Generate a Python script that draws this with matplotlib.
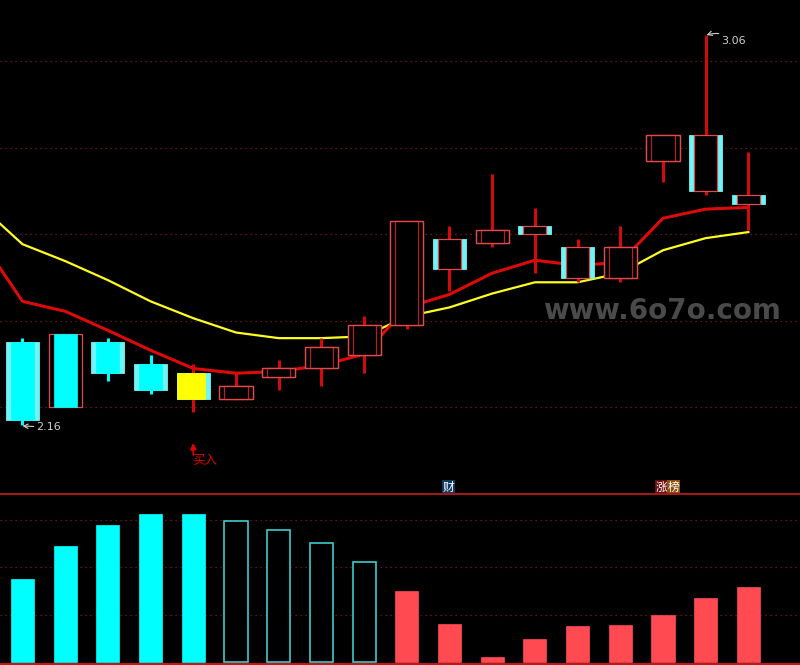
import matplotlib
matplotlib.use("Agg")
import matplotlib.pyplot as plt
import numpy as np

plt.rcParams['font.family'] = ['DejaVu Sans', 'Noto Sans CJK SC']

# ---------------- data ----------------
opens  = [2.35, 2.37, 2.35, 2.30, 2.28, 2.22, 2.27, 2.29, 2.32, 2.39, 2.52, 2.58, 2.60, 2.50, 2.50, 2.77, 2.70, 2.67]
closes = [2.17, 2.20, 2.28, 2.24, 2.22, 2.25, 2.29, 2.34, 2.39, 2.63, 2.59, 2.61, 2.62, 2.57, 2.57, 2.83, 2.83, 2.69]
highs  = [2.36, 2.37, 2.36, 2.32, 2.30, 2.28, 2.31, 2.36, 2.41, 2.63, 2.62, 2.74, 2.66, 2.59, 2.62, 2.83, 3.06, 2.79]
lows   = [2.16, 2.20, 2.26, 2.23, 2.19, 2.22, 2.24, 2.25, 2.28, 2.38, 2.47, 2.57, 2.51, 2.49, 2.49, 2.72, 2.69, 2.61]
# colour of the inner (narrow) candle and of the outer (wide) candle
inner_kind = ['down', 'down', 'down', 'down', 'signal', 'up', 'up', 'up', 'up', 'up',
              'up', 'up', 'up', 'up', 'up', 'up', 'up', 'up']
outer_kind = ['down', 'up', 'down', 'down', 'down', 'up', 'up', 'up', 'up', 'up',
              'down', 'up', 'down', 'down', 'up', 'up', 'down', 'down']
# moving averages, first value belongs to the bar just left of the view
ma_fast = [2.591, 2.445, 2.422, 2.378, 2.332, 2.290, 2.279, 2.283, 2.297, 2.323, 2.431,
           2.461, 2.510, 2.540, 2.528, 2.535, 2.637, 2.658, 2.662]
ma_slow = [2.667, 2.577, 2.538, 2.494, 2.445, 2.406, 2.373, 2.360, 2.360, 2.364, 2.410,
           2.431, 2.463, 2.489, 2.489, 2.510, 2.563, 2.591, 2.605]
volumes = [17500, 24500, 29000, 31300, 31300, 29800, 27900, 25200, 21100, 15000,
           8000, 1100, 4900, 7600, 7800, 9900, 13500, 15900]
vol_kind = ['solid'] * 5 + ['hollow'] * 4 + ['red'] * 9
price_grid = [2.2, 2.4, 2.6, 2.8, 3.0]
vol_grid = [10000, 20000, 30000]
low_label = "2.16"
high_label = "3.06"
buy_label = "买入"
tag1 = "财"
tag2a, tag2b = "涨", "榜"
watermark = "www.6o7o.com"

# ---------------- style ----------------
BG = 'black'
CYAN = '#00ffff'
LCYAN = '#6ff5f5'
RED_EDGE = '#e04a4a'
RED_INNER = '#b02222'
RED_WICK = '#d40a0a'
GRID = '#8a1a1a'
W_OUT = 0.775
W_IN = 0.54

fig = plt.figure(figsize=(8, 6.65), dpi=100, facecolor=BG)
ax1 = fig.add_axes([0, 171 / 665, 1, 494 / 665], facecolor=BG)
ax2 = fig.add_axes([0, 1 / 665, 1, 170 / 665], facecolor=BG)

x = np.arange(len(opens))
xlim = (-22.5 / 42.7, (800 - 22.5) / 42.7)

for ax in (ax1, ax2):
    ax.set_xlim(*xlim)
    ax.set_xticks([])
    ax.set_yticks([])
    for s in ax.spines.values():
        s.set_visible(False)

ax1.set_ylim(2.0, 3.0 + 61 / 432.5)
ax2.set_ylim(-423, 35518)

for g in price_grid:
    ax1.axhline(g, color=GRID, lw=0.9, ls=(0, (1, 3)), zorder=1)
for g in vol_grid:
    ax2.axhline(g, color=GRID, lw=0.9, ls=(0, (1, 3)), zorder=1)
ax2.spines['top'].set_visible(True)
ax2.spines['top'].set_color('#a01818')
ax2.spines['top'].set_linewidth(1.5)
ax2.spines['bottom'].set_visible(True)
ax2.spines['bottom'].set_color('#c01818')
ax2.spines['bottom'].set_linewidth(1.5)

# watermark (behind the marks)
fig.text(662 / 800, 1 - 311 / 665, watermark, color='#4a4a4a', fontsize=20,
         fontweight='bold', ha='center', va='center', zorder=0)

# moving averages
xm = np.arange(-1, len(opens))
ax1.plot(xm, ma_slow, color='#ffff20', lw=1.6, zorder=2)
ax1.plot(xm, ma_fast, color='#dd0a0a', lw=2.2, zorder=2)

# candles
for i in range(len(opens)):
    o, c, h, l = opens[i], closes[i], highs[i], lows[i]
    bot = min(o, c)
    ht = max(abs(c - o), 0.002)
    wick_col = CYAN if inner_kind[i] == 'down' else RED_WICK
    ax1.vlines(x[i], l, h, color=wick_col, lw=2.2, zorder=3)
    # outer
    if outer_kind[i] == 'down':
        ax1.bar(x[i], ht, W_OUT, bot, color=LCYAN, edgecolor=LCYAN, lw=0.6, zorder=4)
    else:
        ax1.bar(x[i], ht, W_OUT, bot, color=BG, edgecolor=RED_EDGE, lw=0.9, zorder=4)
    # inner
    if inner_kind[i] == 'down':
        ax1.bar(x[i], ht, W_IN, bot, color=CYAN, edgecolor=CYAN, lw=0.5, zorder=5)
    elif inner_kind[i] == 'signal':
        wsig = (W_OUT + W_IN) / 2
        ax1.bar(x[i] - (W_OUT - W_IN) / 4, ht, wsig, bot, color='#ffff00',
                edgecolor='#ffff00', lw=0.5, zorder=5)
    else:
        ec = RED_INNER if outer_kind[i] == 'up' else RED_EDGE
        ax1.bar(x[i], ht, W_IN, bot, color=BG, edgecolor=ec, lw=0.9, zorder=5)
        if outer_kind[i] == 'up':
            ax1.bar(x[i], ht, W_OUT, bot, color='none', edgecolor=RED_EDGE, lw=0.9, zorder=6)

# low / high labels
imin = int(np.argmin(lows))
imax = int(np.argmax(highs))
ax1.annotate(low_label, xy=(x[imin], lows[imin] - 0.003), xytext=(14, -1),
             textcoords='offset pixels', color='#cfcfcf', fontsize=8, va='center', ha='left',
             arrowprops=dict(arrowstyle='->', color='#cfcfcf', lw=0.8, shrinkA=0, shrinkB=0))
ax1.annotate(high_label, xy=(x[imax] + 0.02, highs[imax]), xytext=(15, -6),
             textcoords='offset pixels', color='#cfcfcf', fontsize=8, va='center', ha='left',
             arrowprops=dict(arrowstyle='->', color='#cfcfcf', lw=0.8, shrinkA=0, shrinkB=0,
                             connectionstyle='arc3,rad=0.3'))

# buy signal
isig = inner_kind.index('signal')
ax1.annotate('', xy=(x[isig], 2.118), xytext=(x[isig], 2.09),
             arrowprops=dict(arrowstyle='-|>', color='#e00000', lw=1.2, mutation_scale=9,
                             shrinkA=0, shrinkB=0))
ax1.text(x[isig] - 0.02, 2.077, buy_label, color='#e00000', fontsize=9, ha='left', va='center',
         family=['Noto Sans CJK SC', 'DejaVu Sans'])

# tags above the volume panel
ax1.text(9.98, 2.015, tag1, color='white', fontsize=8.5, ha='center', va='center',
         family=['Noto Sans CJK SC', 'DejaVu Sans'],
         bbox=dict(boxstyle='square,pad=0.08', fc='#0f3a60', ec='none'))
ax1.text(14.97, 2.015, tag2a, color='white', fontsize=8.5, ha='center', va='center',
         family=['Noto Sans CJK SC', 'DejaVu Sans'],
         bbox=dict(boxstyle='square,pad=0.08', fc='#6a1010', ec='none'))
ax1.text(15.25, 2.015, tag2b, color='white', fontsize=8.5, ha='center', va='center',
         family=['Noto Sans CJK SC', 'DejaVu Sans'],
         bbox=dict(boxstyle='square,pad=0.08', fc='#8a5010', ec='none'))

# volume bars
for i, v in enumerate(volumes):
    k = vol_kind[i]
    if k == 'solid':
        ax2.bar(x[i], v, W_IN, color=CYAN, edgecolor=CYAN, lw=0.5, zorder=3)
    elif k == 'hollow':
        ax2.bar(x[i], v, W_IN, color=BG, edgecolor='#3ccccc', lw=1.2, zorder=3)
    else:
        ax2.bar(x[i], v, W_IN, color='#ff4a52', edgecolor='#ff4a52', lw=0.5, zorder=3)

fig.savefig('out.png', dpi=100, facecolor=BG)
